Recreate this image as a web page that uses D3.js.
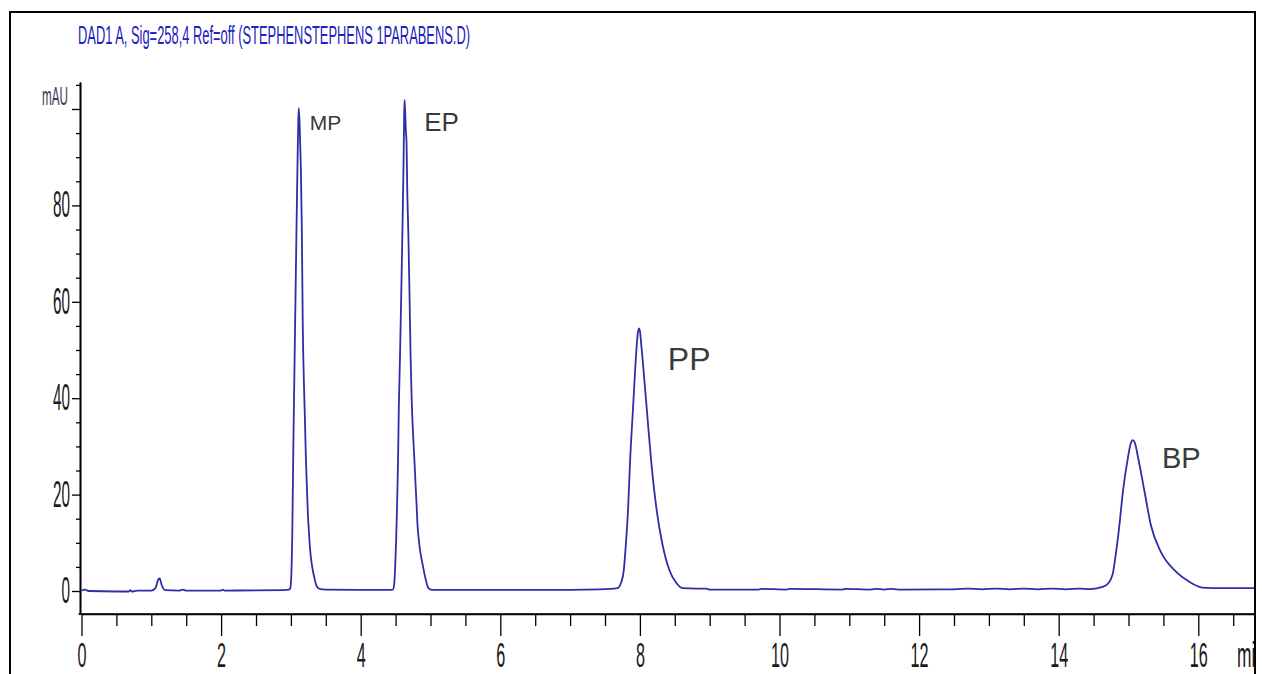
<!DOCTYPE html>
<html>
<head>
<meta charset="utf-8">
<script src="https://cdn.jsdelivr.net/npm/d3@7"></script>
<style>
  html, body { margin: 0; padding: 0; background: #fff; }
  svg { display: block; }
  text { font-family: "Liberation Sans", Arial, sans-serif; }
</style>
</head>
<body>
<svg id="chart" width="1262" height="674"></svg>
<script>
const chartTitle = "DAD1 A, Sig=258,4 Ref=off (STEPHENSTEPHENS 1PARABENS.D)";

// retention time (min) and absorbance (mAU)
const timeMin = [
    0, 0.05, 0.1, 0.5, 0.68, 0.7, 0.72, 0.8, 1.0, 1.06, 1.1, 1.12, 1.15, 1.2, 1.4, 1.45, 1.5, 2.0, 2.02, 2.05, 2.9, 2.97,
    2.99, 3.005, 3.02, 3.035, 3.05, 3.065, 3.08, 3.095, 3.105, 3.112,
    3.125, 3.142, 3.156, 3.17, 3.185, 3.2, 3.214, 3.228, 3.243, 3.257, 3.273, 3.29, 3.315, 3.34, 3.37, 3.42, 3.5,
    4.0, 4.4, 4.46, 4.48, 4.494, 4.508, 4.523, 4.535, 4.546, 4.563, 4.58, 4.597, 4.613, 4.622, 4.628,
    4.638, 4.647, 4.657, 4.666, 4.683, 4.70, 4.715, 4.73, 4.75, 4.77, 4.785, 4.80, 4.815, 4.83, 4.848, 4.867, 4.89, 4.914, 4.94, 4.97, 5.02,
    6.0, 7.0, 7.42, 7.68, 7.73, 7.77, 7.80, 7.83, 7.86, 7.90, 7.94, 7.97, 7.985, 8.0, 8.02, 8.04, 8.10, 8.16, 8.24, 8.32, 8.42, 8.52, 8.61,
    8.8, 8.95, 9.0, 9.7, 9.75, 10.1, 10.15, 10.9, 10.95, 11.3, 11.4, 11.5, 11.6, 11.7, 12.5, 12.7, 12.9, 13.1, 13.3, 13.5, 13.7, 13.9, 14.1, 14.3, 14.45,
    14.54, 14.68, 14.77, 14.81, 14.87, 14.92, 14.99, 15.03, 15.06, 15.09, 15.14, 15.23, 15.32, 15.46, 15.68, 15.87, 16.06, 16.2, 16.85
];
const absMAU = [
    0.1, 0.3, 0.0, -0.1, -0.1, 0.2, -0.1, 0.1, 0.1, 0.6, 2.4, 2.6, 1.2, 0.2, 0.1, 0.3, 0.1, 0.1, 0.3, 0.1, 0.2, 0.3,
    0.5, 3, 12, 30, 45, 60, 75, 89, 97, 100.2,
    97, 88, 76, 55, 44, 36, 28, 22, 16, 12.5, 9, 6.5, 4.2, 2.5, 1.0, 0.4, 0.3,
    0.25, 0.25, 0.3, 1.5, 5, 10.6, 19, 27, 38, 48.5, 61, 74, 88, 98, 101.9,
    99, 95.5, 93, 84, 74, 61, 48.5, 40, 32.6, 27, 22.4, 18, 13.5, 11, 8.7, 7, 5.3, 3.5, 1.9, 0.6, 0.25,
    0.25, 0.25, 0.35, 0.6, 1.7, 4.4, 9.9, 16.8, 27.2, 37.5, 47.9, 53.5, 54.5, 54, 51, 47.9, 37.5, 27.2, 16.8, 9.9, 4.4, 1.7, 0.6,
    0.5, 0.5, 0.3, 0.3, 0.45, 0.3, 0.45, 0.3, 0.45, 0.3, 0.45, 0.3, 0.45, 0.3, 0.35, 0.5, 0.35, 0.5, 0.35, 0.5, 0.35, 0.5, 0.35, 0.5, 0.4,
    0.55, 1.2, 3.3, 6.8, 13.7, 20.6, 27.5, 30.5, 31.3, 30.8, 27.5, 20.6, 13.7, 8.2, 4.0, 1.9, 0.7, 0.6, 0.6
];

const peakNames = ["MP", "EP", "PP", "BP"];
const peakLabelTime = [3.27, 4.91, 8.40, 15.48];
const peakLabelMAU = [95.6, 95.4, 45.9, 25.5];

const xMajorTicks = [0, 2, 4, 6, 8, 10, 12, 14, 16];
const xMinorTicks = d3.range(0.5, 16.8, 0.5).filter(t => t % 2 !== 0);
const yMajorTicks = [0, 20, 40, 60, 80, 100];
const yTickLabels = ["0", "20", "40", "60", "80", ""];
const yMinorTicks = d3.range(5, 106, 5).filter(v => v % 20 !== 0);

const svg = d3.select("#chart");

const x = d3.scaleLinear().domain([0, 16.85]).range([81.5, 81.5 + 69.8 * 16.85]);
const y = d3.scaleLinear().domain([-4.77, 105.6]).range([614, 82]);

svg.append("defs").append("clipPath").attr("id", "frameClip")
    .append("rect").attr("x", 11).attr("y", 13).attr("width", 1243).attr("height", 700);

const plot = svg.append("g").attr("clip-path", "url(#frameClip)");

// title
plot.append("text")
    .attr("x", 78).attr("y", 44)
    .attr("font-size", 26)
    .attr("textLength", 392).attr("lengthAdjust", "spacingAndGlyphs")
    .attr("fill", "#2222c0")
    .text(chartTitle);

// y axis
const yAxisG = plot.append("g").attr("transform", "translate(80,0)");
yAxisG.call(d3.axisLeft(y).tickValues(yMinorTicks).tickSize(4).tickSizeOuter(0).tickFormat(""));
yAxisG.append("g").call(d3.axisLeft(y).tickValues(yMajorTicks).tickSize(8).tickPadding(2).tickSizeOuter(0)
    .tickFormat((d, i) => yTickLabels[i]));
yAxisG.selectAll("path.domain").attr("stroke", "#000").attr("stroke-width", 1.6);
yAxisG.selectAll(".tick line").attr("stroke", "#000").attr("stroke-width", 1.3);
yAxisG.selectAll(".tick text")
    .attr("font-size", 36).attr("fill", "#1a1a1a")
    .attr("textLength", function () { return this.textContent.length * 8.5; })
    .attr("lengthAdjust", "spacingAndGlyphs");

yAxisG.append("text")
    .attr("x", -12).attr("y", 105)
    .attr("text-anchor", "end")
    .attr("font-size", 26).attr("fill", "#3a3a55")
    .attr("textLength", 26).attr("lengthAdjust", "spacingAndGlyphs")
    .text("mAU");

// x axis
const xAxisG = plot.append("g").attr("transform", "translate(0,614)");
xAxisG.call(d3.axisBottom(x).tickValues(xMinorTicks).tickSize(12).tickSizeOuter(0).tickFormat(""));
xAxisG.append("g").call(d3.axisBottom(x).tickValues(xMajorTicks).tickSize(22).tickPadding(6).tickSizeOuter(0));
xAxisG.selectAll("path.domain").attr("stroke", "#000").attr("stroke-width", 1.6);
xAxisG.select("path.domain").attr("d", "M78.5,0H1258");
xAxisG.selectAll(".tick line").attr("stroke", "#000").attr("stroke-width", 1.3);
xAxisG.selectAll(".tick text")
    .attr("font-size", 35).attr("fill", "#1a1a1a")
    .attr("textLength", function () { return this.textContent.length * 9; })
    .attr("lengthAdjust", "spacingAndGlyphs");

// unit label runs into the frame edge, as in the original
xAxisG.append("text")
    .attr("x", 1237).attr("y", 53)
    .attr("text-anchor", "start")
    .attr("font-size", 35).attr("fill", "#1a1a1a")
    .attr("textLength", 28).attr("lengthAdjust", "spacingAndGlyphs")
    .text("min");

// chromatogram trace
const trace = timeMin.map((t, i) => [t, absMAU[i]]);
const line = d3.line()
    .x(d => x(d[0]))
    .y(d => y(d[1]))
    .curve(d3.curveMonotoneX);

plot.append("path")
    .datum(trace)
    .attr("fill", "none")
    .attr("stroke", "#2e2ea8")
    .attr("stroke-width", 1.8)
    .attr("stroke-linejoin", "round")
    .attr("d", line);

// peak labels
const labelSizes = [21, 26, 32, 29];
plot.selectAll("text.peak")
    .data(peakNames)
    .join("text")
    .attr("class", "peak")
    .attr("x", (d, i) => x(peakLabelTime[i]))
    .attr("y", (d, i) => y(peakLabelMAU[i]))
    .attr("font-size", (d, i) => labelSizes[i])
    .attr("fill", "#3a3a3a")
    .text(d => d);

// outer frame
svg.append("rect")
    .attr("x", 10).attr("y", 12)
    .attr("width", 1245).attr("height", 700)
    .attr("fill", "none")
    .attr("stroke", "#000")
    .attr("stroke-width", 2);
</script>
</body>
</html>
